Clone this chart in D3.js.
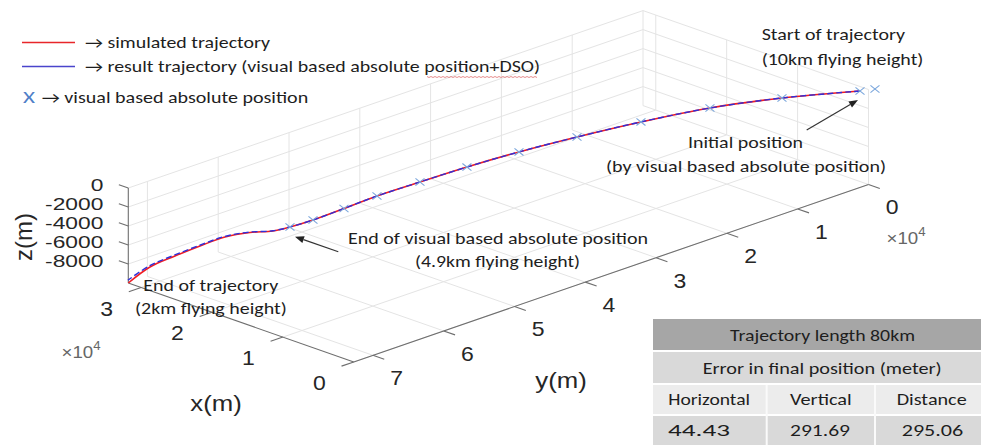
<!DOCTYPE html>
<html><head><meta charset="utf-8">
<script src="https://cdn.jsdelivr.net/npm/d3@7"></script>
<style>
html,body{margin:0;padding:0;background:#fff;}
svg{display:block;}
</style>
</head><body>
<svg id="c" width="981" height="445"></svg>
<script>
// ---------------- data ----------------
const xTicks = [0, 10000, 20000, 30000];
const xTickLabels = ["0", "1", "2", "3"];
const yTicks = [0, 10000, 20000, 30000, 40000, 50000, 60000, 70000];
const yTickLabels = ["0", "1", "2", "3", "4", "5", "6", "7"];
const zTicks = [0, -2000, -4000, -6000, -8000];
const zTickLabels = ["0", "-2000", "-4000", "-6000", "-8000"];
const xDomain = [0, 31800];
const yDomain = [0, 72700];
const zDomain = [-10000, 0];

// simulated trajectory (m)
const simX = [290, 5675, 9930, 13110, 15640, 17660, 19150, 20200, 21110, 21450, 21820, 22410, 23170, 25250, 27050, 28320, 29580, 30840, 31800];
const simY = [910, 6535, 12450, 19010, 25510, 31680, 37540, 43120, 48280, 52600, 56610, 59270, 60910, 62080, 63800, 66060, 68330, 70600, 72700];
const simZ = [0, -700, -1340, -1960, -2530, -3050, -3520, -3940, -4320, -4620, -4890, -5100, -5300, -5700, -6200, -6900, -7700, -8600, -10000];

// result trajectory (visual based absolute position + DSO)
const resX = [290, 5660, 9945, 13100, 15650, 17650, 19160, 20190, 21120, 21440, 21830, 22400, 23180, 25260, 27060, 28330, 29590, 30850, 31830];
const resY = [910, 6550, 12440, 19020, 25500, 31690, 37530, 43130, 48270, 52610, 56600, 59280, 60920, 62090, 63810, 66070, 68340, 70610, 72730];
const resZ = [0, -690, -1350, -1950, -2540, -3040, -3530, -3930, -4330, -4610, -4900, -5090, -5280, -5660, -6140, -6820, -7590, -8460, -9710];

// visual based absolute positions (markers)
const visX = [-350, 290, 5680, 9920, 13120, 15630, 17670, 19140, 20210, 21100, 21460, 21810, 22410];
const visY = [-560, 910, 6530, 12460, 19000, 25520, 31670, 37550, 43110, 48290, 52590, 56620, 59270];
const visZ = [0, 0, -700, -1340, -1960, -2530, -3050, -3520, -3940, -4320, -4620, -4890, -5100];

// texts
const legendTexts = ["\u2192 simulated trajectory", "\u2192 result trajectory (visual based absolute position+DSO)", "\u2192 visual based absolute position"];
const tableTitle = "Trajectory length 80km";
const tableSub = "Error in final position (meter)";
const tableHeads = ["Horizontal", "Vertical", "Distance"];
const tableVals = ["44.43", "291.69", "295.06"];

// ---------------- layout ----------------
const svg = d3.select("#c");
const O = [868.5, 184.5];          // pixel of (xmin, ymin, zmin)
const EX = [-225.5, -78.9];        // full x extent vector
const EY = [-514.7, 177.4];        // full y extent vector
const HZ = 95;                     // full z extent (pixels, upward)
const xS = d3.scaleLinear().domain(xDomain).range([0, 1]);
const yS = d3.scaleLinear().domain(yDomain).range([0, 1]);
const zS = d3.scaleLinear().domain(zDomain).range([0, 1]);
function P(x, y, z) {
  const a = xS(x), b = yS(y), c = zS(z);
  return [O[0] + a * EX[0] + b * EY[0], O[1] + a * EX[1] + b * EY[1] - c * HZ];
}
const [xmin, xmax] = xDomain, [ymin, ymax] = yDomain, [zmin, zmax] = zDomain;

// ---------- grid ----------
const gridSegs = [];
xTicks.forEach(t => { gridSegs.push([[t, ymin, zmin], [t, ymax, zmin]]); gridSegs.push([[t, ymin, zmin], [t, ymin, zmax]]); });
yTicks.forEach(t => { gridSegs.push([[xmin, t, zmin], [xmax, t, zmin]]); gridSegs.push([[xmax, t, zmin], [xmax, t, zmax]]); });
zTicks.forEach(t => { gridSegs.push([[xmax, ymin, t], [xmax, ymax, t]]); gridSegs.push([[xmin, ymin, t], [xmax, ymin, t]]); });
const gGrid = svg.append("g");
gridSegs.forEach(s => {
  const p0 = P(...s[0]), p1 = P(...s[1]);
  gGrid.append("line").attr("x1", p0[0]).attr("y1", p0[1]).attr("x2", p1[0]).attr("y2", p1[1])
    .attr("stroke", "#e4e4e4").attr("stroke-width", 1);
});

// ---------- axes ----------
const gAx = svg.append("g").attr("stroke", "#6e6e6e").attr("stroke-width", 1.1).attr("fill", "none");
function seg(g, p0, p1) { g.append("line").attr("x1", p0[0]).attr("y1", p0[1]).attr("x2", p1[0]).attr("y2", p1[1]); }
seg(gAx, P(xmin, ymax, zmin), P(xmax, ymax, zmin));
seg(gAx, P(xmin, ymin, zmin), P(xmin, ymax, zmin));
seg(gAx, P(xmax, ymax, zmin), P(xmax, ymax, zmax));
function unit(v) { const l = Math.hypot(v[0], v[1]); return [v[0] / l, v[1] / l]; }
const ux = unit(EX), uy = unit(EY);
xTicks.forEach(t => { const p = P(t, ymax, zmin); seg(gAx, p, [p[0] + uy[0] * 13, p[1] + uy[1] * 13]); });
yTicks.forEach(t => { const p = P(xmin, t, zmin); seg(gAx, p, [p[0] - ux[0] * 12, p[1] - ux[1] * 12]); });
zTicks.forEach(t => { const p = P(xmax, ymax, t); seg(gAx, p, [p[0] + ux[0] * 10, p[1] + ux[1] * 10]); });

// tick labels
const TF = "'Liberation Sans', Arial, Helvetica, sans-serif";
function stretchText(g, s, x, y, size, anchor, sx, fill) {
  const gg = g.append("g").attr("transform", `translate(${x},${y}) scale(${sx},1)`);
  return gg.append("text").attr("x", 0).attr("y", 0).attr("text-anchor", anchor)
    .attr("font-family", TF).attr("font-size", size).attr("fill", fill || "#262626").text(s);
}
const gLab = svg.append("g");
xTicks.forEach((t, i) => { const p = P(t, ymax, zmin); stretchText(gLab, xTickLabels[i], p[0] - 34.5, p[1] + 21 + 7.2, 20, "middle", 1.15); });
yTicks.forEach((t, i) => { const p = P(xmin, t, zmin); stretchText(gLab, yTickLabels[i], p[0] + 23.7, p[1] + 22.7 + 7.2, 20, "middle", 1.15); });
zTicks.forEach((t, i) => { const p = P(xmax, ymax, t); stretchText(gLab, zTickLabels[i], p[0] - 25, p[1] - 3 + 6.1, 16.5, "end", 1.38); });
// exponent labels
function expLabel(x, y) {
  const t = stretchText(gLab, "\u00d710", x, y, 17, "start", 1.1, "#666");
  t.append("tspan").attr("dy", -8).attr("font-size", 12).text("4");
}
expLabel(61.5, 358);
expLabel(886.5, 244);
// axis titles
stretchText(gLab, "x(m)", 216, 411, 23, "middle", 1.12);
stretchText(gLab, "y(m)", 561, 388, 23, "middle", 1.12);
gLab.append("text").attr("transform", "translate(32,237) rotate(-90)").attr("text-anchor", "middle")
  .attr("font-family", TF).attr("font-size", 24).attr("fill", "#262626").text("z(m)");

// ---------- trajectories ----------
const lineGen = d3.line().curve(d3.curveCatmullRom.alpha(0.5));
const simPts = simX.map((x, i) => P(x, simY[i], simZ[i]));
const resPts = resX.map((x, i) => P(x, resY[i], resZ[i]));
svg.append("path").attr("d", lineGen(simPts)).attr("fill", "none").attr("stroke", "#f01c24").attr("stroke-width", 1.6);
svg.append("path").attr("d", lineGen(resPts)).attr("fill", "none").attr("stroke", "#2f2fd8").attr("stroke-width", 1.4)
  .attr("stroke-dasharray", "6,3");

// markers
const gMk = svg.append("g").attr("stroke", "#7aa6dc").attr("stroke-width", 1.1);
visX.forEach((x, i) => {
  const p = P(x, visY[i], visZ[i]); const r = 4.5;
  seg(gMk, [p[0] - r, p[1] - r * 0.8], [p[0] + r, p[1] + r * 0.8]);
  seg(gMk, [p[0] - r, p[1] + r * 0.8], [p[0] + r, p[1] - r * 0.8]);
});

// ---------- annotations ----------
const AF = "Carlito, Calibri, Lato, 'Open Sans', sans-serif";
const gAn = svg.append("g");
function ann(s, x, y, w, fill, size) {
  return gAn.append("text").attr("x", x).attr("y", y).attr("font-family", AF).attr("font-size", size || 16)
    .attr("fill", fill || "#1e1e1e").attr("textLength", w).attr("lengthAdjust", "spacingAndGlyphs").text(s);
}
// legend
gAn.append("line").attr("x1", 22).attr("y1", 42.5).attr("x2", 75).attr("y2", 42.5).attr("stroke", "#e8262a").attr("stroke-width", 1.5);
gAn.append("line").attr("x1", 22).attr("y1", 66.5).attr("x2", 75).attr("y2", 66.5).attr("stroke", "#4a44cc").attr("stroke-width", 1.5);
ann(legendTexts[0], 85, 48, 185);
ann(legendTexts[1], 85, 72, 455);
ann("X", 23, 103, 12, "#4f7fc8");
ann(legendTexts[2], 41.7, 103, 266.5);
// spell-check underline
gAn.append("path").attr("d", d3.range(427, 538, 2).map((x, i) => (i ? "L" : "M") + x + "," + (76.5 + (i % 2 ? 1 : 0))).join(""))
  .attr("fill", "none").attr("stroke", "#e07070").attr("stroke-width", 0.8);

ann("Start of trajectory", 761.7, 40, 143.3);
ann("(10km flying height)", 761.7, 65, 161.7);
ann("Initial position", 688, 148, 115);
ann("(by visual based absolute position)", 606, 172, 280);
ann("End of visual based absolute position", 348, 244, 300);
ann("(4.9km flying height)", 415, 267, 165);
ann("End of trajectory", 143.3, 290.5, 135);
ann("(2km flying height)", 135, 314, 151.7);

function arrow(x1, y1, x2, y2) {
  const dx = x2 - x1, dy = y2 - y1, L = Math.hypot(dx, dy), u = [dx / L, dy / L], n = [-u[1], u[0]];
  const hl = 9, hw = 3.5;
  const bx = x2 - u[0] * hl, by = y2 - u[1] * hl;
  gAn.append("line").attr("x1", x1).attr("y1", y1).attr("x2", bx).attr("y2", by).attr("stroke", "#333").attr("stroke-width", 1.2);
  gAn.append("path").attr("d", `M${x2},${y2}L${bx + n[0] * hw},${by + n[1] * hw}L${bx - n[0] * hw},${by - n[1] * hw}Z`).attr("fill", "#222");
}
arrow(806.7, 130, 858, 100);
arrow(338.3, 251.7, 295, 236.7);

// ---------- table ----------
const gT = svg.append("g");
const TL = 653, TR = 981;
const rows = [[319, 350, "#a6a6a6"], [352, 383, "#d9d9d9"], [385, 414, "#ececec"], [416, 445, "#d9d9d9"]];
rows.forEach(r => gT.append("rect").attr("x", TL).attr("y", r[0]).attr("width", TR - TL).attr("height", r[1] - r[0]).attr("fill", r[2]));
[766.7, 875].forEach(x => gT.append("rect").attr("x", x - 1).attr("y", 385).attr("width", 2).attr("height", 60).attr("fill", "#fafafa"));
function cell(s, x, y, w) {
  return gT.append("text").attr("x", x).attr("y", y).attr("font-family", AF).attr("font-size", 16).attr("fill", "#1e1e1e")
    .attr("textLength", w).attr("lengthAdjust", "spacingAndGlyphs").text(s);
}
cell(tableTitle, 730, 341, 185);
cell(tableSub, 702.7, 373.5, 239);
const headX = [[668.3, 81.7], [790, 61.7], [896.7, 70]];
tableHeads.forEach((h, i) => cell(h, headX[i][0], 405, headX[i][1]));
const valX = [[668, 62], [790, 60], [901.7, 61.6]];
tableVals.forEach((v, i) => cell(v, valX[i][0], 436, valX[i][1]));
</script>
</body></html>
